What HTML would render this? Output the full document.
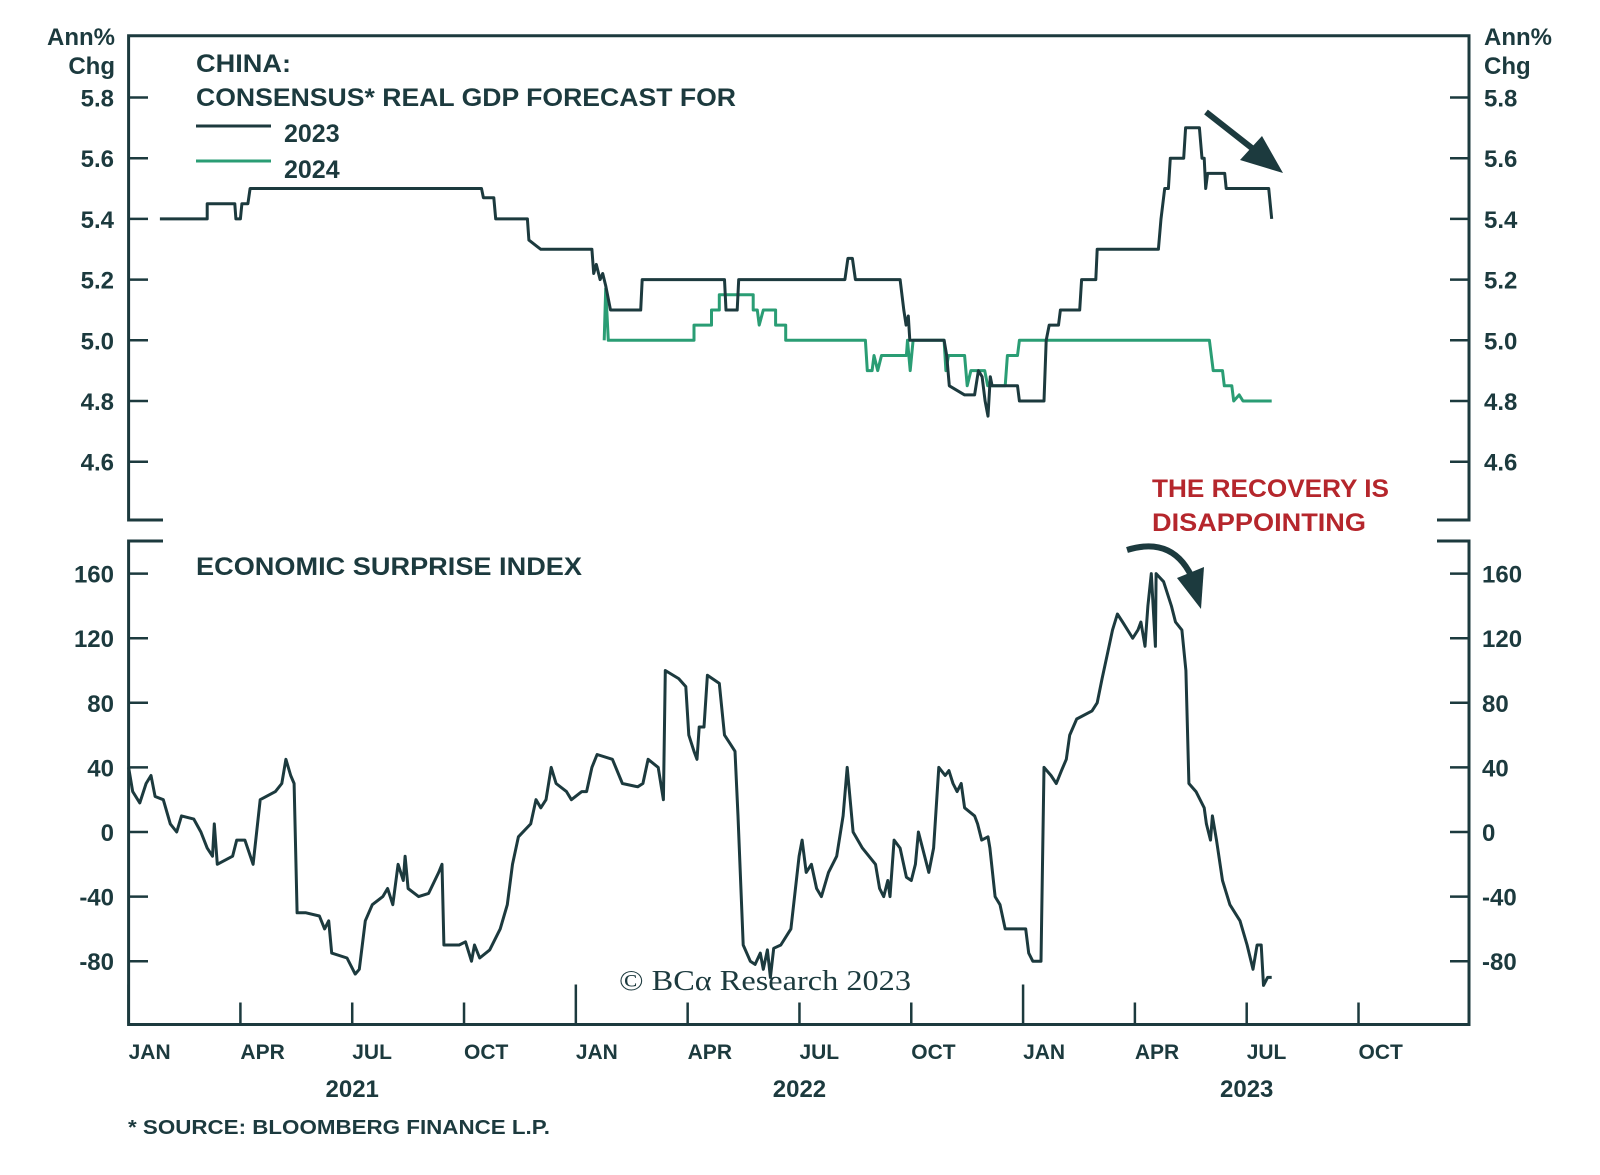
<!DOCTYPE html>
<html><head><meta charset="utf-8"><style>
html,body{margin:0;padding:0;background:#fff;}
svg{display:block;font-family:"Liberation Sans",sans-serif;}
</style></head><body>
<svg id="chart" width="1600" height="1175" viewBox="0 0 1600 1175" xmlns="http://www.w3.org/2000/svg">
<g id="frame" stroke="#1c3a3e" stroke-width="3" fill="none">
  <path d="M163,520 H128.6 V35.7 H1469 V520 H1437"/>
  <path d="M163,541 H128.6 V1024.5 H1469 V541 H1437"/>
</g>
<g id="ticks" stroke="#1c3a3e" stroke-width="2.5"></g>
<g id="labels" fill="#1c3a3e" font-weight="bold" font-size="24"></g>
<g fill="#1c3a3e" font-weight="bold">
  <text x="115" y="45" text-anchor="end" font-size="24">Ann%</text>
  <text x="115" y="74" text-anchor="end" font-size="24">Chg</text>
  <text x="1484" y="45" font-size="24">Ann%</text>
  <text x="1484" y="74" font-size="24">Chg</text>
  <text x="196" y="72" font-size="25" textLength="95" lengthAdjust="spacingAndGlyphs">CHINA:</text>
  <text x="196" y="106" font-size="25" textLength="540" lengthAdjust="spacingAndGlyphs">CONSENSUS* REAL GDP FORECAST FOR</text>
  <line x1="196" y1="126" x2="271" y2="126" stroke="#1c3a3e" stroke-width="3"/>
  <text x="284" y="142" font-size="25">2023</text>
  <line x1="196" y1="161" x2="271" y2="161" stroke="#2a9d74" stroke-width="3"/>
  <text x="284" y="178" font-size="25">2024</text>
  <text x="196" y="575" font-size="25" textLength="386" lengthAdjust="spacingAndGlyphs">ECONOMIC SURPRISE INDEX</text>
  <text x="1152" y="497" font-size="25" fill="#b5262c" textLength="237" lengthAdjust="spacingAndGlyphs">THE RECOVERY IS</text>
  <text x="1152" y="531" font-size="25" fill="#b5262c" textLength="214" lengthAdjust="spacingAndGlyphs">DISAPPOINTING</text>
  <text x="128" y="1134" font-size="20" textLength="422" lengthAdjust="spacingAndGlyphs">* SOURCE: BLOOMBERG FINANCE L.P.</text>
  <text x="619" y="990" font-size="29" font-weight="normal" font-family="Liberation Serif, serif" textLength="292" lengthAdjust="spacingAndGlyphs">© BCα Research 2023</text>
</g>
<g id="series"></g>
<g fill="#1c3a3e" stroke="#1c3a3e">
  <line x1="1206" y1="112" x2="1262" y2="156" stroke-width="6"/>
  <polygon points="1283,173 1240,160 1262,136" stroke="none"/>
  <path d="M1127,550 Q1175,535 1194,582" fill="none" stroke-width="6"/>
  <polygon points="1201,609 1177,578 1204,567" stroke="none"/>
</g>
</svg>
<script>
const gdp2023Dates=[0.84,2.11,2.11,2.85,2.88,3.0,3.04,3.2,3.26,9.47,9.52,9.8,9.85,10.7,10.74,10.95,11.06,12.43,12.48,12.55,12.65,12.72,12.8,12.93,13.74,13.78,15.99,16.03,16.33,16.37,19.22,19.3,19.42,19.5,20.7,20.8,20.86,20.92,20.96,21.88,21.95,22.02,22.43,22.7,22.8,22.9,22.98,23.06,23.12,23.17,23.85,23.9,24.56,24.62,24.7,24.95,25.0,25.52,25.57,25.95,25.99,27.63,27.7,27.8,27.9,27.95,28.31,28.36,28.73,28.8,28.86,28.9,28.95,29.41,29.45,30.59,30.67];
const gdp2023Values=[5.4,5.4,5.45,5.45,5.4,5.4,5.45,5.45,5.5,5.5,5.47,5.47,5.4,5.4,5.33,5.31,5.3,5.3,5.22,5.25,5.2,5.22,5.18,5.1,5.1,5.2,5.2,5.1,5.1,5.2,5.2,5.27,5.27,5.2,5.2,5.1,5.05,5.08,5.0,5.0,4.95,4.85,4.82,4.82,4.9,4.88,4.8,4.75,4.88,4.85,4.85,4.8,4.8,5.0,5.05,5.05,5.1,5.1,5.2,5.2,5.3,5.3,5.4,5.5,5.5,5.6,5.6,5.7,5.7,5.6,5.6,5.5,5.55,5.55,5.5,5.5,5.4];
const gdp2024Dates=[12.76,12.8,12.87,15.17,15.17,15.64,15.64,15.85,15.85,16.76,16.76,16.87,16.92,17.03,17.36,17.36,17.63,17.63,19.77,19.82,19.95,20.0,20.1,20.2,20.87,20.9,20.97,21.05,21.88,21.93,22.0,22.43,22.5,22.6,22.97,23.05,23.52,23.58,23.85,23.9,29.0,29.1,29.35,29.4,29.6,29.65,29.8,29.9,30.67];
const gdp2024Values=[5.0,5.17,5.0,5.0,5.05,5.05,5.1,5.1,5.15,5.15,5.1,5.1,5.05,5.1,5.1,5.05,5.05,5.0,5.0,4.9,4.9,4.95,4.9,4.95,4.95,5.0,4.9,5.0,5.0,4.9,4.95,4.95,4.85,4.9,4.9,4.85,4.85,4.95,4.95,5.0,5.0,4.9,4.9,4.85,4.85,4.8,4.82,4.8,4.8];
const esiDates=[0,0.11,0.30,0.47,0.60,0.71,0.93,1.12,1.29,1.42,1.75,1.94,2.11,2.25,2.30,2.38,2.79,2.90,3.12,3.34,3.53,3.94,4.11,4.22,4.35,4.44,4.52,4.76,5.12,5.26,5.37,5.45,5.86,6.08,6.19,6.35,6.54,6.82,6.95,7.09,7.23,7.37,7.42,7.50,7.78,8.05,8.32,8.41,8.46,8.87,9.04,9.20,9.28,9.42,9.69,9.97,10.16,10.30,10.46,10.79,10.93,11.06,11.20,11.34,11.47,11.75,11.88,12.16,12.29,12.43,12.57,12.98,13.25,13.66,13.80,13.94,14.21,14.35,14.40,14.76,14.95,15.03,15.17,15.25,15.31,15.44,15.53,15.85,15.99,16.13,16.27,16.35,16.49,16.68,16.81,16.95,17.03,17.14,17.22,17.31,17.50,17.77,17.99,18.07,18.18,18.32,18.46,18.59,18.78,19.00,19.17,19.28,19.44,19.69,20.04,20.15,20.26,20.37,20.43,20.54,20.70,20.87,21.00,21.11,21.19,21.47,21.60,21.74,21.91,22.01,22.12,22.23,22.34,22.43,22.70,22.78,22.89,23.06,23.11,23.25,23.38,23.52,23.71,23.93,24.07,24.15,24.26,24.48,24.56,24.75,24.89,25.03,25.16,25.25,25.44,25.85,25.99,26.12,26.26,26.40,26.53,26.67,26.94,27.08,27.16,27.27,27.35,27.44,27.55,27.57,27.77,27.98,28.09,28.26,28.37,28.45,28.64,28.86,28.92,29.03,29.08,29.19,29.35,29.55,29.82,30.01,30.17,30.28,30.39,30.45,30.56,30.67];
const esiValues=[40,25,18,30,35,22,20,5,0,10,8,0,-10,-15,5,-20,-15,-5,-5,-20,20,25,30,45,35,30,-50,-50,-52,-60,-55,-75,-78,-88,-85,-55,-45,-40,-35,-45,-20,-30,-15,-35,-40,-38,-25,-20,-70,-70,-68,-80,-70,-78,-73,-60,-45,-20,-3,5,20,15,20,40,30,25,20,25,25,40,48,45,30,28,30,45,40,20,100,95,90,60,50,45,65,65,97,92,60,55,50,10,-70,-80,-82,-75,-85,-73,-90,-72,-70,-60,-15,-5,-25,-20,-35,-40,-25,-15,10,40,0,-10,-20,-35,-40,-30,-40,-5,-10,-28,-30,-20,0,-25,-10,40,35,38,30,25,30,15,10,5,-5,-3,-10,-40,-45,-60,-60,-60,-60,-75,-80,-80,40,35,30,38,45,60,70,75,80,95,110,125,135,130,120,125,130,115,140,160,115,160,155,140,130,125,100,30,25,15,5,-5,10,-5,-30,-45,-55,-70,-85,-70,-70,-95,-90,-90];
const gdpTicks=[5.8,5.6,5.4,5.2,5.0,4.8,4.6];
const gdpTickLabels=["5.8","5.6","5.4","5.2","5.0","4.8","4.6"];
const esiTicks=[160,120,80,40,0,-40,-80];
const esiTickLabels=["160","120","80","40","0","-40","-80"];
const monthTicks=[0,3,6,9,12,15,18,21,24,27,30,33];
const monthLabels=["JAN","APR","JUL","OCT","JAN","APR","JUL","OCT","JAN","APR","JUL","OCT"];
const yearPositions=[6,18,30];
const yearLabels=["2021","2022","2023"];

const NS="http://www.w3.org/2000/svg";
function x(m){return 128.6+m*37.27;}
function yTop(v){return 97.5+(5.8-v)/0.2*60.7;}
function yBot(v){return 832+(0-v)/40*64.6;}
function mk(tag,attrs,parent){const e=document.createElementNS(NS,tag);for(const k in attrs)e.setAttribute(k,attrs[k]);parent.appendChild(e);return e;}
const ticks=document.getElementById('ticks'),labels=document.getElementById('labels'),series=document.getElementById('series');
gdpTicks.forEach((v,i)=>{
  const a=mk('line',{x1:128.6,x2:148,y1:yTop(v),y2:yTop(v)},ticks);
  
  
  const b=mk('line',{x1:1450,x2:1469,y1:yTop(v),y2:yTop(v)},ticks);
  
  
  const t=mk('text',{x:114,y:yTop(v)+9,'text-anchor':'end'},labels);t.textContent=gdpTickLabels[i];
  
  
  const r=mk('text',{x:1484,y:yTop(v)+9},labels);r.textContent=gdpTickLabels[i];
  
  
});
esiTicks.forEach((v,i)=>{
  const a=mk('line',{x1:128.6,x2:148,y1:yBot(v),y2:yBot(v)},ticks);
  
  
  const b=mk('line',{x1:1450,x2:1469,y1:yBot(v),y2:yBot(v)},ticks);
  
  
  const t=mk('text',{x:114,y:yBot(v)+9,'text-anchor':'end'},labels);t.textContent=esiTickLabels[i];
  
  
  const r=mk('text',{x:1482,y:yBot(v)+9},labels);r.textContent=esiTickLabels[i];
  
  
});
monthTicks.forEach((m,i)=>{
  const len=(m%12===0)?40:22;
  const a=mk('line',{x1:x(m),x2:x(m),y1:1024.5,y2:1024.5-len},ticks);
  
  
  const t=mk('text',{x:x(m),y:1059,'font-size':21},labels);t.textContent=monthLabels[i];
  
  
});
yearPositions.forEach((m,i)=>{
  const t=mk('text',{x:x(m),y:1097,'text-anchor':'middle'},labels);t.textContent=yearLabels[i];
  
  
});
function line(dates,vals,yf,color,w){
  return mk('polyline',{points:dates.map((d,i)=>x(d).toFixed(1)+','+yf(vals[i]).toFixed(1)).join(' '),fill:'none',stroke:color,'stroke-width':w,'stroke-linejoin':'round'},series);
}
const s24=line(gdp2024Dates,gdp2024Values,yTop,'#2a9d74',3);


const s23=line(gdp2023Dates,gdp2023Values,yTop,'#1c3a3e',3);


const se=line(esiDates,esiValues,yBot,'#1c3a3e',3);


</script>
</body></html>
